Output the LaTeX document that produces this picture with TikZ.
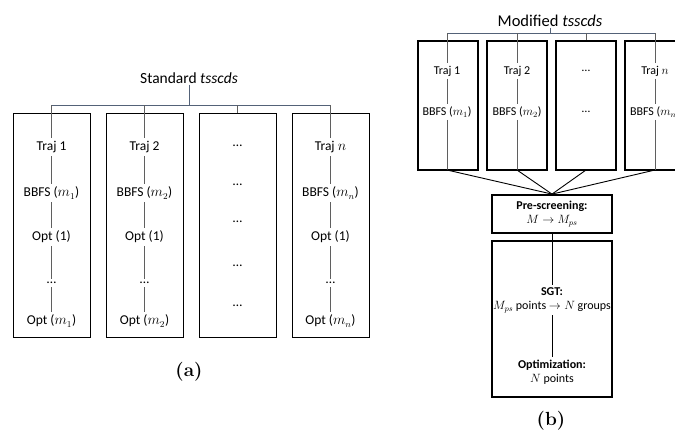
\documentclass[tikz,border=0pt]{standalone}
\usepackage{amsmath}
\usepackage{fontspec}
\newfontfamily\calfont{Carlito}
\definecolor{treeC}{RGB}{84,98,120}
\definecolor{stemC}{RGB}{95,95,95}

\begin{document}
\begin{tikzpicture}[x=1pt, y=-1pt,
		atxt/.style={font=\calfont\fontsize{13.5}{16}\selectfont, inner sep=3pt},
		btxt/.style={font=\calfont\fontsize{12}{14}\selectfont, inner sep=2.5pt},
		ttl/.style={font=\calfont\fontsize{15.5}{18}\selectfont, inner sep=1pt},
		abox/.style={draw, line width=0.9pt, minimum width=77pt, minimum height=224pt},
		bbox/.style={draw, line width=1.8pt, minimum width=60pt, minimum height=129pt},
		tree/.style={draw=treeC, line width=1pt},
		stem/.style={draw=stemC, line width=1pt},
		subcap/.style={font=\fontsize{19}{22}\selectfont\bfseries}]
		\useasboundingbox (0,0) rectangle (675,437);
		\clip (0,0) rectangle (675,437);

		% (a) standard
		\node (aTitle) at (189,78) [ttl] {Standard \textit{tsscds}};
		\coordinate (aJ) at (189,105);
		\coordinate (aJ1) at (51.5,105);
		\coordinate (aJ2) at (144.5,105);
		\coordinate (aJ3) at (237.5,105);
		\coordinate (aJ4) at (330.5,105);
		\draw [tree] (aTitle) -- (aJ);
		\draw [tree] (aJ1) -- (aJ4);

		\node (aBox1) at (51.5,225) [abox] {};
		\node (aBox2) at (144.5,225) [abox] {};
		\node (aBox3) at (237.5,225) [abox] {};
		\node (aBox4) at (330.5,225) [abox] {};

		\node (aT1) at (51.5,147) [atxt] {Traj 1};
		\node (aB1) at (51.5,193) [atxt] {BBFS ($m_1$)};
		\node (aO1) at (51.5,237) [atxt] {Opt (1)};
		\node (aD1) at (51.5,283) [atxt] {…};
		\node (aM1) at (51.5,321) [atxt] {Opt ($m_1$)};
		\draw [stem] (aJ1) -- (aT1) -- (aB1) -- (aO1) -- (aD1) -- (aM1);

		\node (aT2) at (144.5,147) [atxt] {Traj 2};
		\node (aB2) at (144.5,193) [atxt] {BBFS ($m_2$)};
		\node (aO2) at (144.5,237) [atxt] {Opt (1)};
		\node (aD2) at (144.5,283) [atxt] {…};
		\node (aM2) at (144.5,321) [atxt] {Opt ($m_2$)};
		\draw [stem] (aJ2) -- (aT2) -- (aB2) -- (aO2) -- (aD2) -- (aM2);

		\node at (237.5,146) [atxt] {…};
		\node at (237.5,185) [atxt] {…};
		\node at (237.5,222) [atxt] {…};
		\node at (237.5,266) [atxt] {…};
		\node at (237.5,306) [atxt] {…};
		\draw [stem] (aJ3) -- (aBox3.north);

		\node (aT4) at (330.5,147) [atxt] {Traj $n$};
		\node (aB4) at (330.5,193) [atxt] {BBFS ($m_n$)};
		\node (aO4) at (330.5,237) [atxt] {Opt (1)};
		\node (aD4) at (330.5,283) [atxt] {…};
		\node (aM4) at (330.5,321) [atxt] {Opt ($m_n$)};
		\draw [stem] (aJ4) -- (aT4) -- (aB4) -- (aO4) -- (aD4) -- (aM4);

		\node (aCap) at (189,372) [subcap] {(a)};

		% (b) modified
		\node (bTitle) at (550,21) [ttl, font=\calfont\fontsize{16.5}{19}\selectfont] {Modified \textit{tsscds}};
		\coordinate (bJ) at (550,33);
		\coordinate (bJ1) at (447,33);
		\coordinate (bJ2) at (517,33);
		\coordinate (bJ3) at (586,33);
		\coordinate (bJ4) at (655,33);
		\draw [tree] (bTitle) -- (bJ);
		\draw [tree] (bJ1) -- (bJ4);

		\node (bBox1) at (448,105.5) [bbox] {};
		\node (bBox2) at (517,105.5) [bbox] {};
		\node (bBox3) at (586,105.5) [bbox] {};
		\node (bBox4) at (655,105.5) [bbox] {};

		\coordinate (bE1) at (447,170);
		\coordinate (bE2) at (517,170);
		\coordinate (bE3) at (586,170);
		\coordinate (bE4) at (655,170);

		\node (bT1) at (447,71) [btxt] {Traj 1};
		\node (bB1) at (447,112) [btxt] {BBFS ($m_1$)};
		\draw [stem] (bJ1) -- (bT1) -- (bB1) -- (bE1);

		\node (bT2) at (517,71) [btxt] {Traj 2};
		\node (bB2) at (517,112) [btxt] {BBFS ($m_2$)};
		\draw [stem] (bJ2) -- (bT2) -- (bB2) -- (bE2);

		\node at (586,71) [btxt] {…};
		\node at (586,112) [btxt] {…};
		\draw [stem] (bJ3) -- (bBox3.north);

		\node (bT4) at (655,71) [btxt] {Traj $n$};
		\node (bB4) at (655,112) [btxt] {BBFS ($m_n$)};
		\draw [stem] (bJ4) -- (bT4) -- (bB4) -- (bE4);

		\node (preS) at (552,214) [draw, line width=1.8pt, minimum width=120pt, minimum height=38pt,
			btxt, align=center] {\textbf{Pre-screening:}\\$M \rightarrow M_{ps}$};
		\draw [line width=0.9pt] (bE1) -- (preS.north);
		\draw [line width=0.9pt] (bE2) -- (preS.north);
		\draw [line width=0.9pt] (bE3) -- (preS.north);
		\draw [line width=0.9pt] (bE4) -- (preS.north);

		\node (bBig) at (552,319) [draw, line width=1.8pt, minimum width=120pt, minimum height=156pt] {};
		\node (sgt) at (552,300) [btxt, align=center] {\textbf{SGT:}\\$M_{ps}$ points $\rightarrow N$ groups};
		\node (opt) at (552,372) [btxt, align=center] {\textbf{Optimization:}\\$N$ points};
		\draw [line width=0.9pt] (preS) -- (sgt) -- (opt);

		\node (bCap) at (551,421) [subcap] {(b)};
\end{tikzpicture}
\end{document}
